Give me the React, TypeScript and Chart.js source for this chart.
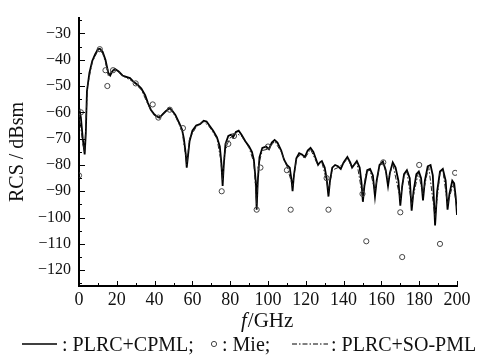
import React, { useEffect, useRef } from 'react';
import { Chart, registerables } from 'chart.js';
Chart.register(...registerables);

const FONT = '"Liberation Serif", "Times New Roman", serif';

// PLRC+CPML (solid)
const cpmlCurve: [number, number][] = [
  [0, -58], [1, -62], [2, -70], [3, -76], [3.6, -68], [4.2, -52], [5.5, -45], [7, -40.5], [8.5, -38], [10, -36],
  [11, -35.8], [12.5, -37], [14, -40], [15.5, -45], [16.5, -46], [17.5, -44.5], [19, -43.5], [21, -44.5], [23, -46],
  [25, -46.5], [27, -47], [29, -48.5], [31, -49.5], [33, -51], [35, -53.5], [36.5, -56.5], [38, -59], [39.5, -60.5],
  [41, -61.5], [42.5, -62], [44, -61], [46, -59.5], [48, -58.5], [49.5, -59.5], [51, -61], [53, -64], [54.5, -66.5],
  [55.5, -70], [56.5, -76], [57, -81], [57.6, -77], [58.5, -71], [60, -67], [62, -65], [64, -64.5], [66, -63.2],
  [67.5, -63.5], [69, -65], [71, -67], [73, -69.5], [74.5, -73], [75.3, -79], [76, -88], [76.6, -80], [77.5, -72],
  [79, -69], [80.5, -68.5], [81.5, -69.5], [83, -67.5], [84.5, -67], [86, -68.5], [88, -71], [90, -73], [91.5, -75],
  [92.5, -78], [93.5, -86], [94, -97], [94.6, -86], [95.5, -77], [97, -73.5], [99, -73], [100.5, -74], [102, -71.5],
  [103.5, -70.5], [105, -71.5], [107, -74.5], [108.5, -78], [110, -80], [111.5, -81], [112.5, -86], [113, -90],
  [113.7, -84], [115, -77.5], [116.5, -75.5], [118, -76], [119.5, -77], [121, -74.5], [122.5, -73.5], [124, -75],
  [125.5, -78], [126.5, -80], [127.5, -79], [128.5, -78.5], [130, -81], [131, -85], [132, -92], [132.8, -86],
  [134, -81], [135.5, -80], [137, -80.5], [138.5, -81.5], [140, -79], [142, -77], [143.5, -79], [144.5, -81],
  [145.5, -80], [147, -78.5], [148.5, -81], [149.5, -87], [150.2, -94], [151, -88], [152.5, -82], [154, -81.5],
  [155.5, -84], [156.6, -92], [157.5, -86], [159, -80], [160.8, -78.7], [162.3, -82], [163.5, -88], [164.5, -83],
  [166, -79], [167.5, -81], [169, -86], [170, -95.5], [171, -88], [172, -83.5], [173.5, -82], [175, -85],
  [176, -97.4], [177, -90], [178.5, -83.5], [179.8, -82.5], [181, -85], [182, -93.5], [183, -86], [184.5, -80.5],
  [186, -80], [187.2, -84], [188.4, -103], [189.5, -90], [191, -82.5], [192.5, -81.5], [194, -86], [195, -97],
  [196, -91], [197.5, -86], [198.5, -87], [199.3, -92], [200, -99],
];

// PLRC+SO-PML (dash-dot)
const soPmlCurve: [number, number][] = [
  [0, -60], [2, -72], [3, -75], [4.5, -50], [7, -41], [10, -36.5], [12.5, -37.5], [14, -41], [15.5, -46],
  [17.5, -44], [20, -44], [24, -46.5], [29, -48.5], [33, -51.5], [36.5, -57], [39.5, -61], [42, -62], [45, -60],
  [48, -58.5], [51, -61.5], [54.5, -67], [56.5, -77], [57, -80], [58.5, -70], [62, -65.5], [66, -63.5], [69, -65.5],
  [73, -70], [75, -78], [76, -86], [77, -76], [78.5, -72], [80.5, -69], [83, -68], [86, -69], [90, -73.5],
  [92.5, -79], [94, -95], [95, -80], [97, -74.5], [100, -74], [103.5, -71], [107, -75], [110, -80.5], [113, -88],
  [115, -78], [117, -76], [119.5, -77.5], [122.5, -74], [126, -79.5], [128.5, -79], [131, -86], [132, -90],
  [134, -82], [137, -81], [140, -79.5], [142, -77.5], [144.5, -81], [147, -79], [150, -92], [152, -82.5],
  [154, -82], [156.6, -90], [159, -80.5], [161, -79], [163.5, -86], [166, -79.5], [170, -93], [172, -84],
  [173.5, -82.5], [176, -95], [179.5, -83], [182, -91], [185, -80.5], [188.4, -100], [191, -83], [192.5, -82],
  [195, -95], [198, -87], [200, -97],
];

// Mie reference samples (circles)
const mieSamples: [number, number][] = [
  [0, -84], [1, -60], [11, -36], [14, -44], [15, -50], [18, -44], [30, -49], [39, -57], [42, -62], [48, -59],
  [55, -66], [75.5, -90], [79, -72], [82, -69], [94, -97], [96, -81], [100, -73], [110, -82], [112, -97],
  [131, -85], [132, -97], [150, -91], [152, -109], [161, -79], [170, -98], [171, -115], [180, -80], [191, -110],
  [199, -83],
];

const xTickValues = [0, 20, 40, 60, 80, 100, 120, 140, 160, 180, 200];
const yTickValues = [-120, -110, -100, -90, -80, -70, -60, -50, -40, -30];

const decor = {
  id: 'decor',
  afterDraw(chart: any) {
    const ctx = chart.ctx as CanvasRenderingContext2D;
    const xs = chart.scales.x;
    const ys = chart.scales.y;
    const area = chart.chartArea;
    ctx.save();
    ctx.strokeStyle = '#000';
    ctx.lineWidth = 1;
    // inward x ticks
    for (let v = 0; v <= 200; v += 10) {
      const px = Math.round(xs.getPixelForValue(v)) + 0.5;
      const len = v % 20 === 0 ? 5 : 3;
      ctx.beginPath();
      ctx.moveTo(px, area.bottom);
      ctx.lineTo(px, area.bottom - len);
      ctx.stroke();
    }
    // inward y ticks
    for (let v = -125; v <= -25; v += 5) {
      const py = Math.round(ys.getPixelForValue(v)) + 0.5;
      const len = v % 10 === 0 ? 6 : 3;
      ctx.beginPath();
      ctx.moveTo(area.left, py);
      ctx.lineTo(area.left + len, py);
      ctx.stroke();
    }
    ctx.fillStyle = '#111';
    // y title
    ctx.save();
    ctx.translate(18, 152);
    ctx.rotate(-Math.PI / 2);
    ctx.font = `20px ${FONT}`;
    ctx.textAlign = 'center';
    ctx.textBaseline = 'middle';
    ctx.fillText('RCS / dBsm', 0, 0);
    ctx.restore();
    // x title
    ctx.textBaseline = 'alphabetic';
    ctx.textAlign = 'left';
    ctx.font = `italic 21px ${FONT}`;
    ctx.fillText('f', 241, 327);
    const fw = ctx.measureText('f').width;
    ctx.font = `21px ${FONT}`;
    ctx.fillText('/GHz', 241 + fw + 1, 327);
    // legend
    const ly = 344;
    ctx.font = `20px ${FONT}`;
    ctx.lineWidth = 1.5;
    ctx.beginPath();
    ctx.moveTo(22, ly);
    ctx.lineTo(57, ly);
    ctx.stroke();
    ctx.fillText(': PLRC+CPML;', 62, 351);
    ctx.lineWidth = 1;
    ctx.strokeStyle = '#444';
    ctx.beginPath();
    ctx.arc(214, ly, 2.6, 0, Math.PI * 2);
    ctx.stroke();
    ctx.fillText(': Mie;', 222, 351);
    ctx.strokeStyle = '#000';
    ctx.setLineDash([5, 2, 1.5, 2]);
    ctx.beginPath();
    ctx.moveTo(292, ly);
    ctx.lineTo(328, ly);
    ctx.stroke();
    ctx.setLineDash([]);
    ctx.fillText(': PLRC+SO-PML', 331, 351);
    ctx.restore();
  },
};

export default function App() {
  const ref = useRef<HTMLCanvasElement>(null);
  useEffect(() => {
    document.body.style.margin = '0';
    const chart = new Chart(ref.current as HTMLCanvasElement, {
      type: 'scatter',
      data: {
        datasets: [
          {
            label: 'Mie',
            data: mieSamples.map(([x, y]) => ({ x, y })),
            showLine: false,
            pointRadius: 2.6,
            pointBorderColor: '#444',
            pointBackgroundColor: 'rgba(255,255,255,0)',
            pointBorderWidth: 1,
            order: 0,
          } as any,
          {
            label: 'PLRC+SO-PML',
            data: soPmlCurve.map(([x, y]) => ({ x, y })),
            showLine: true,
            borderColor: '#222',
            borderWidth: 1,
            borderDash: [5, 2, 1.5, 2],
            pointRadius: 0,
            tension: 0,
            order: 1,
          } as any,
          {
            label: 'PLRC+CPML',
            data: cpmlCurve.map(([x, y]) => ({ x, y })),
            showLine: true,
            borderColor: '#000',
            borderWidth: 1.8,
            pointRadius: 0,
            tension: 0,
            order: 2,
          } as any,
        ],
      },
      options: {
        responsive: false,
        animation: false,
        devicePixelRatio: 1,
        layout: { padding: { top: 8, right: 35, left: 0, bottom: 0 } },
        plugins: { legend: { display: false }, tooltip: { enabled: false } },
        scales: {
          x: {
            type: 'linear',
            min: 0,
            max: 200,
            afterFit: (s: any) => { s.height = 71; },
            afterBuildTicks: (s: any) => { s.ticks = xTickValues.map((value) => ({ value })); },
            grid: { display: false, drawTicks: false },
            border: { display: true, color: '#000', width: 2 },
            ticks: { font: { family: FONT, size: 18 }, color: '#111', padding: 3, maxRotation: 0, autoSkip: false },
          },
          y: {
            type: 'linear',
            min: -126,
            max: -24,
            afterFit: (s: any) => { s.width = 79; },
            afterBuildTicks: (s: any) => { s.ticks = yTickValues.map((value) => ({ value })); },
            grid: { display: false, drawTicks: false },
            border: { display: true, color: '#000', width: 2 },
            ticks: {
              font: { family: FONT, size: 16 },
              color: '#111',
              padding: 8,
              autoSkip: false,
              callback: (v: any) => '\u2212' + Math.abs(Number(v)),
            },
          },
        },
      },
      plugins: [decor],
    } as any);
    return () => chart.destroy();
  }, []);
  return (
    <div style={{ position: 'absolute', left: 0, top: 0, width: 492, height: 357, background: '#fff' }}>
      <canvas ref={ref} width={492} height={357} style={{ width: 492, height: 357, display: 'block' }} />
    </div>
  );
}
